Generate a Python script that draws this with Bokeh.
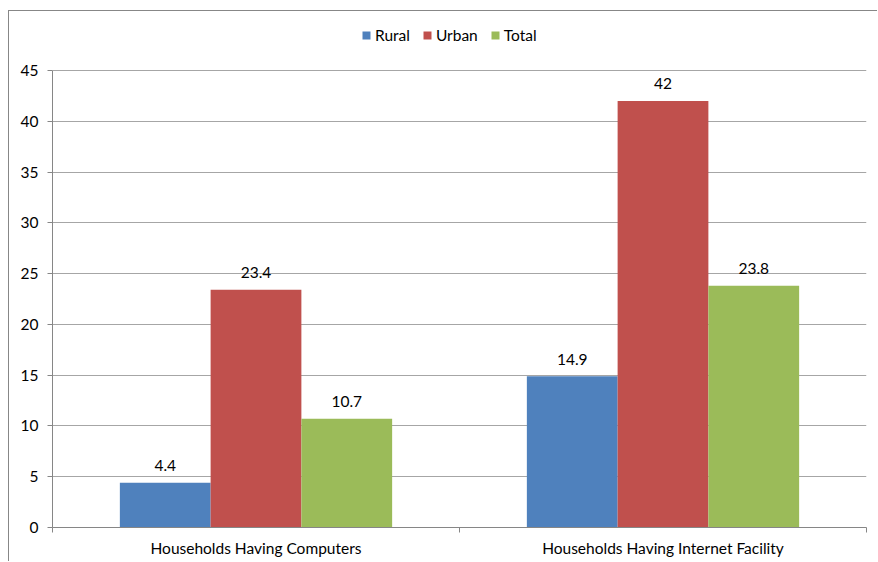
from bokeh.plotting import figure
from bokeh.models import (ColumnDataSource, Range1d, FixedTicker,
                          Legend, LegendItem)
from bokeh.transform import dodge
from bokeh.core.properties import value
from bokeh.embed import file_html
from bokeh.resources import INLINE

categories = ["Households Having Computers", "Households Having Internet Facility"]
series_names = ["Rural", "Urban", "Total"]
rural = [4.4, 14.9]
urban = [23.4, 42.0]
total = [10.7, 23.8]
y_ticks = [0, 5, 10, 15, 20, 25, 30, 35, 40, 45]
colors = ["#4F81BD", "#C0504D", "#9BBB59"]
FONT = "Lato"
FS = "15.5px"

n = len(categories)
y_axis_max = y_ticks[-1]
# frame extends above the axis maximum to leave room for the legend
frame_h = 511
axis_h = 457
y_top = y_axis_max * frame_h / axis_h

src = ColumnDataSource(dict(xc=[i + 0.5 for i in range(n)], cat=categories,
                            Rural=rural, Urban=urban, Total=total,
                            Rural_t=[f"{v:g}" for v in rural],
                            Urban_t=[f"{v:g}" for v in urban],
                            Total_t=[f"{v:g}" for v in total]))

p = figure(width=869, height=551, x_range=Range1d(0, n), y_range=Range1d(0, y_top),
           output_backend="svg", toolbar_location=None,
           min_border_left=43, min_border_right=12, min_border_top=5, min_border_bottom=35)
p.styles = {"margin-left": "8px", "margin-top": "10px",
            "border-left": "1px solid #878787", "border-top": "1px solid #878787"}
p.outline_line_color = None
p.background_fill_color = "white"
p.border_fill_color = "white"

w = 0.223
offsets = [-w, 0.0, w]
renderers = []
for name, col, off in zip(series_names, colors, offsets):
    r = p.vbar(x=dodge("xc", off), top=name, width=w, source=src,
               fill_color=col, line_color=None)
    renderers.append(r)
    p.text(x=dodge("xc", off), y=name, text=name + "_t", source=src,
           text_align="center", text_baseline="middle", y_offset=-17,
           text_font=value(FONT), text_font_size=FS, text_color="#000000")

# y axis
ya = p.yaxis[0]
ya.ticker = FixedTicker(ticks=y_ticks)
ya.bounds = (0, y_axis_max)
ya.axis_line_color = "#868686"
ya.major_tick_line_color = "#868686"
ya.major_tick_out = 5
ya.major_tick_in = 0
ya.minor_tick_line_color = None
ya.major_label_standoff = 9
ya.major_label_text_font = FONT
ya.major_label_text_font_size = FS
ya.major_label_text_color = "#000000"

p.ygrid.grid_line_color = "#A6A6A6"
p.ygrid.ticker = FixedTicker(ticks=y_ticks)
p.ygrid.bounds = (0, y_axis_max)
p.xgrid.grid_line_color = None

# x axis: category labels centred, tick marks at category boundaries
xa = p.xaxis[0]
xa.ticker = FixedTicker(ticks=[i + 0.5 for i in range(n)], minor_ticks=list(range(n + 1)))
xa.major_label_overrides = {i + 0.5: c for i, c in enumerate(categories)}
xa.axis_line_color = "#868686"
xa.major_tick_line_color = None
xa.major_tick_out = 0
xa.major_tick_in = 0
xa.minor_tick_line_color = "#868686"
xa.minor_tick_out = 5
xa.minor_tick_in = 0
xa.major_label_standoff = 6
xa.major_label_text_font = FONT
xa.major_label_text_font_size = FS
xa.major_label_text_color = "#000000"

legend = Legend(items=[LegendItem(label=s, renderers=[r]) for s, r in zip(series_names, renderers)],
                orientation="horizontal", location=(309, 483))
legend.label_text_font = FONT
legend.label_text_font_size = FS
legend.label_text_color = "#000000"
legend.glyph_width = 10
legend.glyph_height = 10
legend.label_standoff = 4
legend.spacing = 12
legend.padding = 0
legend.margin = 0
legend.border_line_color = None
legend.background_fill_alpha = 0
p.add_layout(legend, "center")

open("out.html", "w").write(file_html(p, INLINE))
